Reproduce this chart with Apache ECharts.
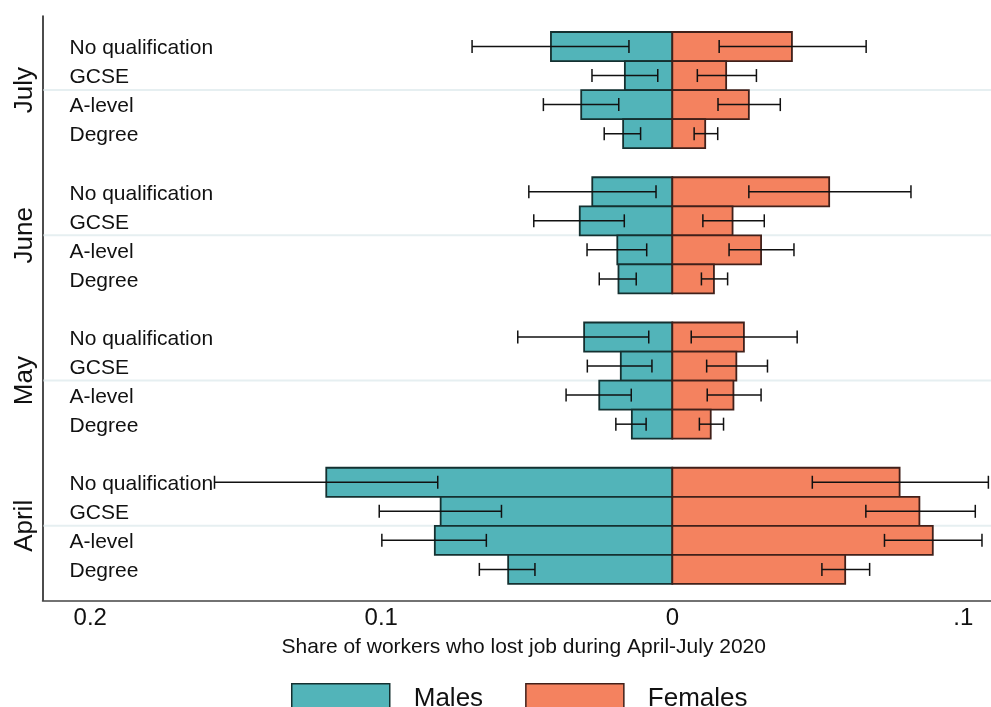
<!DOCTYPE html>
<html>
<head>
<meta charset="utf-8">
<title>Job loss by qualification and sex, April-July 2020</title>
<script src="https://cdn.jsdelivr.net/npm/echarts@6/dist/echarts.min.js"></script>
<style>
  html, body { margin: 0; padding: 0; background: #fff; }
  #chart { width: 991px; height: 707px; }
</style>
</head>
<body>
<div id="chart"></div>
<script>
// Groups from top to bottom, and the rows inside each group
const months = ['July', 'June', 'May', 'April'];
const qualifications = ['No qualification', 'GCSE', 'A-level', 'Degree'];

// Share of workers who lost their job; one inner list per month,
// entries follow the order of `qualifications`
const maleShare = [
  [0.0417, 0.0163, 0.0313, 0.0169],
  [0.0275, 0.0318, 0.0189, 0.0185],
  [0.0303, 0.0177, 0.0251, 0.0139],
  [0.1189, 0.0796, 0.0816, 0.0564]
];
const maleLow = [
  [0.0149, 0.0050, 0.0184, 0.0109],
  [0.0056, 0.0165, 0.0088, 0.0124],
  [0.0081, 0.0070, 0.0141, 0.0090],
  [0.0806, 0.0587, 0.0639, 0.0472]
];
const maleHigh = [
  [0.0688, 0.0276, 0.0443, 0.0234],
  [0.0493, 0.0476, 0.0293, 0.0251],
  [0.0531, 0.0292, 0.0365, 0.0194],
  [0.1573, 0.1007, 0.0998, 0.0663]
];

const femaleShare = [
  [0.0411, 0.0185, 0.0263, 0.0113],
  [0.0539, 0.0207, 0.0305, 0.0143],
  [0.0246, 0.0220, 0.0210, 0.0132],
  [0.0781, 0.0849, 0.0895, 0.0594]
];
const femaleLow = [
  [0.0161, 0.0086, 0.0157, 0.0075],
  [0.0263, 0.0105, 0.0195, 0.0100],
  [0.0065, 0.0118, 0.0120, 0.0093],
  [0.0481, 0.0665, 0.0729, 0.0514]
];
const femaleHigh = [
  [0.0666, 0.0289, 0.0371, 0.0156],
  [0.0820, 0.0316, 0.0418, 0.0190],
  [0.0429, 0.0327, 0.0305, 0.0176],
  [0.1086, 0.1041, 0.1064, 0.0678]
];

// Horizontal axis ticks (males are plotted to the left of zero)
const tickValues = [-0.2, -0.1, 0, 0.1];
const tickLabels = ['0.2', '0.1', '0', '.1'];

const FONT = '"Liberation Sans", Arial, Helvetica, sans-serif';
const MALE_COLOR = '#52b4b9';
const FEMALE_COLOR = '#f4825f';
const MALE_EDGE = '#143030';
const FEMALE_EDGE = '#40201a';

// Each month takes four rows plus one empty spacer row
const ROWS_PER_GROUP = qualifications.length + 1;
const rowOf = (m, q) => m * ROWS_PER_GROUP + q;
const groupCentres = months.map((_, m) => m * ROWS_PER_GROUP + (qualifications.length - 1) / 2);

// Build series data from the arrays above
const maleBars = [], femaleBars = [], errBars = [], rowLabels = [];
months.forEach((_, m) => {
  qualifications.forEach((name, q) => {
    const r = rowOf(m, q);
    maleBars.push([r, -maleShare[m][q]]);
    femaleBars.push([r, femaleShare[m][q]]);
    errBars.push([r, -maleHigh[m][q], -maleLow[m][q]]);
    errBars.push([r, femaleLow[m][q], femaleHigh[m][q]]);
    rowLabels.push([r, 0, name]);
  });
});

function barRenderer(edge) {
  return function (params, api) {
    const row = api.value(0);
    const v = api.value(1);
    const a = api.coord([0, row]);
    const b = api.coord([v, row]);
    const h = api.size([0, 1])[1];
    return {
      type: 'rect',
      shape: {
        x: Math.min(a[0], b[0]),
        y: a[1] - h / 2,
        width: Math.abs(b[0] - a[0]),
        height: h
      },
      style: { fill: api.visual('color'), stroke: edge, lineWidth: 1.8 }
    };
  };
}

function errorRenderer(params, api) {
  const row = api.value(0);
  const p0 = api.coord([api.value(1), row]);
  const p1 = api.coord([api.value(2), row]);
  const cap = 6.5;
  const st = { stroke: '#111', lineWidth: 1.5 };
  return {
    type: 'group',
    children: [
      { type: 'line', shape: { x1: p0[0], y1: p0[1], x2: p1[0], y2: p1[1] }, style: st },
      { type: 'line', shape: { x1: p0[0], y1: p0[1] - cap, x2: p0[0], y2: p0[1] + cap }, style: st },
      { type: 'line', shape: { x1: p1[0], y1: p1[1] - cap, x2: p1[0], y2: p1[1] + cap }, style: st }
    ]
  };
}

function labelRenderer(params, api) {
  const row = api.value(0);
  const p = api.coord([0, row]);
  return {
    type: 'text',
    x: params.coordSys.x + 27,
    y: p[1] + 2,
    style: {
      text: rowLabels[params.dataIndex][2],
      font: '21px ' + FONT,
      fill: '#111',
      align: 'left',
      verticalAlign: 'middle'
    }
  };
}

function guideRenderer(params, api) {
  const y = api.coord([0, api.value(0)])[1];
  const cs = params.coordSys;
  return {
    type: 'line',
    shape: { x1: cs.x + 1, y1: y, x2: cs.x + cs.width, y2: y },
    style: { stroke: '#e6eff1', lineWidth: 2 }
  };
}

const chart = echarts.init(document.getElementById('chart'), null, { renderer: 'canvas' });

chart.setOption({
  animation: false,
  backgroundColor: '#fff',
  textStyle: { fontFamily: FONT },
  grid: {
    left: 42.5, right: 0, top: 16, bottom: 106.5,
    containLabel: false, outerBoundsMode: 'none'
  },
  legend: {
    left: 291,
    top: 683,
    padding: 0,
    itemWidth: 98,
    itemHeight: 30,
    itemGap: 42,
    selectedMode: false,
    textStyle: { fontSize: 26, color: '#111', fontFamily: FONT, padding: [0, 0, 0, 19] },
    data: [
      { name: 'Males', icon: 'rect', itemStyle: { color: MALE_COLOR, borderColor: MALE_EDGE, borderWidth: 1.5 } },
      { name: 'Females', icon: 'rect', itemStyle: { color: FEMALE_COLOR, borderColor: FEMALE_EDGE, borderWidth: 1.5 } }
    ]
  },
  xAxis: {
    type: 'value',
    min: -0.2164,
    max: 0.1095,
    name: 'Share of workers who lost job during April-July 2020',
    nameLocation: 'middle',
    nameGap: 36,
    nameTextStyle: { fontSize: 21, color: '#111', fontFamily: FONT, padding: [0, 0, 0, 14] },
    axisLine: { show: true, onZero: false, lineStyle: { color: '#444', width: 1.5 } },
    axisTick: { show: false },
    splitLine: { show: false },
    axisLabel: {
      customValues: tickValues,
      fontSize: 24,
      color: '#111',
      fontFamily: FONT,
      margin: 6,
      formatter: v => {
        const i = tickValues.findIndex(t => Math.abs(t - v) < 1e-9);
        return i >= 0 ? tickLabels[i] : '';
      }
    }
  },
  yAxis: {
    type: 'value',
    min: -1.05,
    max: 19.07,
    inverse: true,
    axisLine: { show: true, onZero: false, lineStyle: { color: '#111', width: 1.5 } },
    axisTick: { show: false },
    splitLine: { show: false },
    axisLabel: {
      customValues: groupCentres,
      rotate: 90,
      fontSize: 26,
      color: '#111',
      fontFamily: FONT,
      margin: 5,
      formatter: v => {
        const i = groupCentres.findIndex(t => Math.abs(t - v) < 1e-9);
        return i >= 0 ? months[i] : '';
      }
    }
  },
  series: [
    {
      name: 'guides', type: 'custom', silent: true, z: 1,
      renderItem: guideRenderer,
      encode: { y: 0 },
      data: groupCentres.map(c => [c])
    },
    {
      name: 'Males', type: 'custom', z: 2,
      itemStyle: { color: MALE_COLOR, borderColor: MALE_EDGE },
      renderItem: barRenderer(MALE_EDGE),
      encode: { x: 1, y: 0 },
      data: maleBars
    },
    {
      name: 'Females', type: 'custom', z: 2,
      itemStyle: { color: FEMALE_COLOR, borderColor: FEMALE_EDGE },
      renderItem: barRenderer(FEMALE_EDGE),
      encode: { x: 1, y: 0 },
      data: femaleBars
    },
    {
      name: 'ci', type: 'custom', silent: true, z: 3,
      renderItem: errorRenderer,
      encode: { x: [1, 2], y: 0 },
      data: errBars
    },
    {
      name: 'rowLabels', type: 'custom', silent: true, z: 4,
      renderItem: labelRenderer,
      encode: { y: 0 },
      data: rowLabels.map(d => [d[0], d[1]])
    }
  ]
});
</script>
</body>
</html>
